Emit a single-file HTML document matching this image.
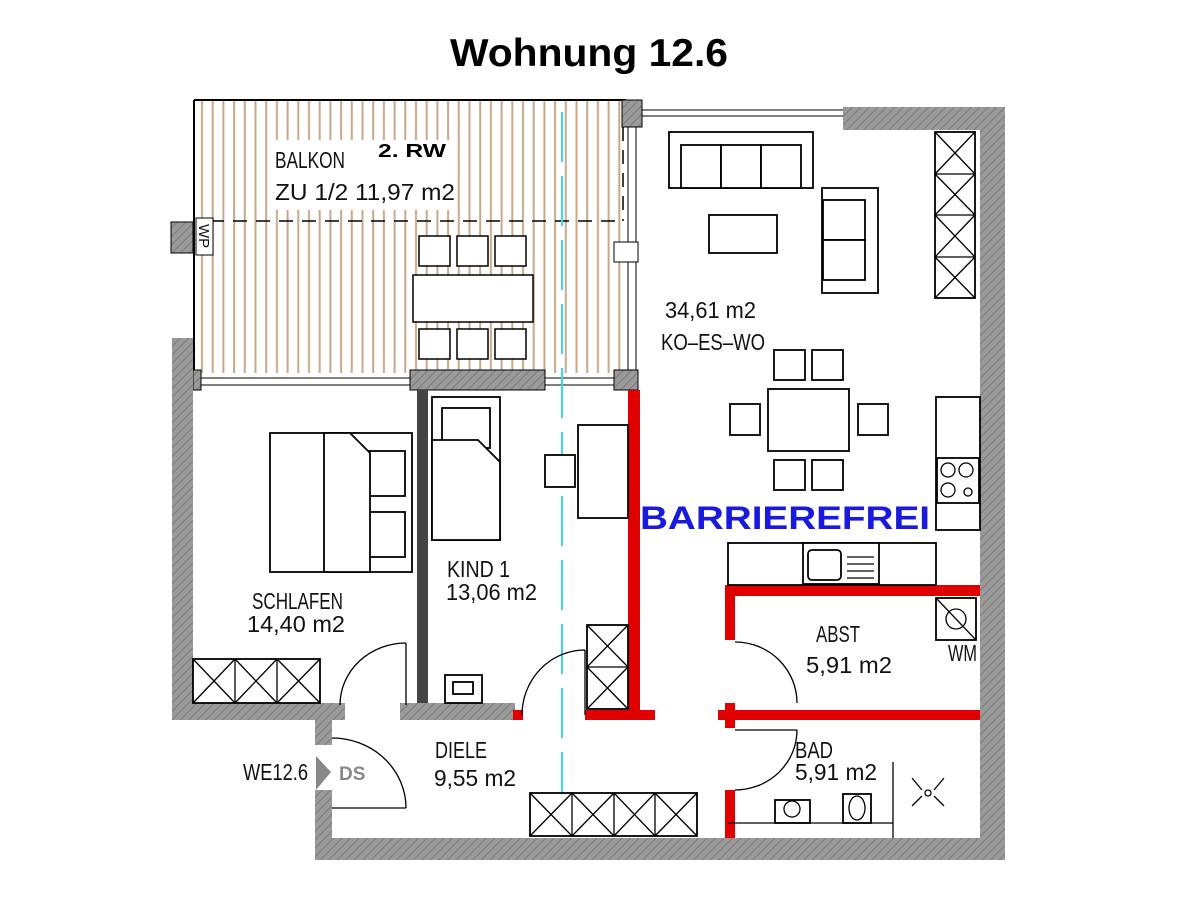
<!DOCTYPE html>
<html><head><meta charset="utf-8"><style>
body{margin:0;background:#fff;width:1200px;height:909px;overflow:hidden}
svg{display:block}
.t{font-family:"Liberation Sans",sans-serif;font-size:23px;fill:#111}
</style></head><body>
<svg width="1200" height="909" viewBox="0 0 1200 909" xmlns="http://www.w3.org/2000/svg">
<defs>
<pattern id="h" width="6" height="6" patternUnits="userSpaceOnUse" patternTransform="rotate(45)"><rect width="6" height="6" fill="#9a9a9a"/><line x1="0" y1="0" x2="0" y2="6" stroke="#7a7a7a" stroke-width="2"/></pattern>
<pattern id="w" width="10.7" height="10" patternUnits="userSpaceOnUse" x="197"><line x1="5" y1="0" x2="5" y2="10" stroke="#c8a888" stroke-width="2"/></pattern>
</defs>
<text x="589" y="66" text-anchor="middle" font-family="Liberation Sans,sans-serif" font-weight="bold" font-size="39" textLength="278" lengthAdjust="spacingAndGlyphs" fill="#000">Wohnung 12.6</text>

<!-- balcony -->
<rect x="195" y="101" width="430" height="272" fill="url(#w)"/>
<line x1="194" y1="100" x2="626" y2="100" stroke="#000" stroke-width="2"/>
<line x1="194" y1="100" x2="194" y2="372" stroke="#000" stroke-width="2"/>
<line x1="210" y1="221" x2="623" y2="221" stroke="#000" stroke-width="1.5" stroke-dasharray="14,9"/>
<line x1="623" y1="127" x2="623" y2="221" stroke="#000" stroke-width="1.5" stroke-dasharray="14,9"/>
<rect x="272" y="140" width="185" height="70" fill="#fff"/>
<text x="275" y="168" class="t" textLength="70" lengthAdjust="spacingAndGlyphs">BALKON</text>
<text x="275" y="200" class="t" textLength="180" lengthAdjust="spacingAndGlyphs">ZU  1/2  11,97  m2</text>
<text x="378" y="157" font-family="Liberation Sans,sans-serif" font-weight="bold" font-size="18" textLength="68" lengthAdjust="spacingAndGlyphs">2. RW</text>
<rect x="171" y="222" width="22" height="31" fill="url(#h)" stroke="#000"/>
<rect x="196" y="218" width="17" height="37" fill="#fff" stroke="#000"/>
<text x="0" y="0" transform="translate(199,224) rotate(90)" class="t" style="font-size:15px">WP</text>
<g fill="#fff" stroke="#000" stroke-width="1.5">
<rect x="419" y="236" width="31" height="30"/><rect x="457" y="236" width="31" height="30"/><rect x="495" y="236" width="31" height="30"/>
<rect x="413" y="275" width="120" height="47"/>
<rect x="419" y="329" width="31" height="30"/><rect x="457" y="329" width="31" height="30"/><rect x="495" y="329" width="31" height="30"/>
</g>
<!-- windows/pillars -->
<rect x="622" y="100" width="20" height="27" fill="url(#h)" stroke="#000"/>
<line x1="642" y1="110" x2="845" y2="110" stroke="#000"/><line x1="642" y1="116" x2="845" y2="116" stroke="#000"/>
<rect x="628" y="127" width="8" height="246" fill="#fff" stroke="#000"/>
<rect x="614" y="242" width="24" height="20" fill="#fff" stroke="#000"/>
<rect x="193" y="370" width="8" height="20" fill="url(#h)" stroke="#000"/>
<rect x="201" y="378" width="209" height="7" fill="#fff" stroke="#000"/>
<rect x="545" y="378" width="69" height="7" fill="#fff" stroke="#000"/>
<rect x="410" y="370" width="135" height="20" fill="url(#h)" stroke="#000"/>
<rect x="614" y="370" width="24" height="20" fill="url(#h)" stroke="#000"/>
<!-- walls -->
<rect x="843" y="107" width="162" height="23" fill="url(#h)"/>
<rect x="980" y="107" width="25" height="753" fill="url(#h)"/>
<rect x="172" y="338" width="21" height="380" fill="url(#h)"/>
<rect x="172" y="703" width="173" height="17" fill="url(#h)"/>
<rect x="315" y="703" width="17" height="42" fill="url(#h)"/>
<rect x="315" y="790" width="17" height="48" fill="url(#h)"/>
<rect x="315" y="838" width="665" height="22" fill="url(#h)"/>
<rect x="400" y="703" width="115" height="17" fill="url(#h)"/>
<rect x="417" y="390" width="11" height="313" fill="#444"/>
<!-- red walls -->
<g fill="#e00000">
<rect x="628" y="390" width="12" height="328"/>
<rect x="585" y="710" width="70" height="10"/>
<rect x="513" y="710" width="10" height="10"/>
<rect x="725" y="585" width="255" height="11"/>
<rect x="725" y="585" width="10" height="55"/>
<rect x="718" y="710" width="262" height="10"/>
<rect x="725" y="703" width="10" height="25"/>
<rect x="725" y="790" width="10" height="48"/>
</g>
<!-- cyan line -->
<line x1="562" y1="112" x2="562" y2="800" stroke="#3cd8e8" stroke-width="2" stroke-dasharray="50,14"/>
<!-- living -->
<g fill="#fff" stroke="#000" stroke-width="1.8">
<rect x="669" y="132" width="144" height="56"/>
<rect x="681" y="145" width="40" height="43"/><rect x="721" y="145" width="40" height="43"/><rect x="761" y="145" width="40" height="43"/>
<rect x="709" y="215" width="68" height="38"/>
<rect x="822" y="188" width="56" height="105"/>
<rect x="823" y="200" width="42" height="40"/><rect x="823" y="240" width="42" height="40"/>
<rect x="935" y="132" width="40" height="166"/>
<rect x="774" y="350" width="31" height="30"/><rect x="812" y="350" width="31" height="30"/>
<rect x="768" y="389" width="81" height="62"/>
<rect x="730" y="404" width="30" height="31"/><rect x="858" y="404" width="30" height="31"/>
<rect x="774" y="460" width="31" height="30"/><rect x="812" y="460" width="31" height="30"/>
<rect x="936" y="397" width="44" height="133"/>
<rect x="937" y="458" width="42" height="45"/>
<rect x="728" y="543" width="208" height="42"/>
<rect x="803" y="543" width="76" height="41"/>
<rect x="808" y="550" width="33" height="30" rx="4"/>
</g>
<g stroke="#000" stroke-width="1.3" fill="none">
<path d="M935 132L975 174M975 132L935 174M935 174L975 215M975 174L935 215M935 215L975 257M975 215L935 257M935 257L975 298M975 257L935 298M935 174H975M935 215H975M935 257H975"/>
<circle cx="948" cy="470" r="7"/><circle cx="966" cy="470" r="7"/><circle cx="948" cy="490" r="7"/><circle cx="968" cy="492" r="4"/>
<path d="M847 557H874M847 564H874M847 571H874M847 578H874"/>
</g>
<text x="665" y="318" class="t" textLength="91" lengthAdjust="spacingAndGlyphs">34,61  m2</text>
<text x="661" y="350" class="t" textLength="104" lengthAdjust="spacingAndGlyphs">KO–ES–WO</text>
<text x="640" y="529" font-family="Liberation Sans,sans-serif" font-weight="bold" font-size="32" textLength="290" lengthAdjust="spacingAndGlyphs" fill="#1a1adc">BARRIEREFREI</text>
<!-- bedrooms -->
<g fill="#fff" stroke="#000" stroke-width="1.8">
<rect x="270" y="433" width="142" height="139"/>
<rect x="368" y="451" width="37" height="45"/><rect x="368" y="512" width="37" height="45"/>
<path d="M324 433H350L370 453V572H324Z"/>
<rect x="432" y="397" width="68" height="143"/>
<rect x="442" y="408" width="48" height="40"/>
<path d="M432 440H478L500 462V540H432Z"/>
<rect x="578" y="425" width="50" height="93"/>
<rect x="545" y="455" width="30" height="32"/>
<rect x="445" y="675" width="37" height="28"/><rect x="453" y="682" width="20" height="12"/>
<rect x="193" y="659" width="127" height="44"/>
<rect x="587" y="625" width="41" height="84"/>
<rect x="530" y="793" width="167" height="43"/>
<rect x="936" y="598" width="40" height="42"/>
<rect x="775" y="800" width="35" height="23"/>
<rect x="843" y="794" width="28" height="29"/>
</g>
<g stroke="#000" stroke-width="1.3" fill="none">
<path d="M193 659L235 703M235 659L193 703M235 659L277 703M277 659L235 703M277 659L320 703M320 659L277 703M235 659V703M277 659V703"/>
<path d="M587 625L628 667M628 625L587 667M587 667L628 709M628 667L587 709M587 667H628"/>
<path d="M530 793L572 836M572 793L530 836M572 793L614 836M614 793L572 836M614 793L655 836M655 793L614 836M655 793L697 836M697 793L655 836M572 793V836M614 793V836M655 793V836"/>
<path d="M936 598L976 640"/><circle cx="956" cy="619" r="10"/>
<circle cx="792" cy="809" r="8"/><ellipse cx="857" cy="808" rx="8" ry="12"/>
<path d="M728 823H893M893 762V838"/>
<path d="M912 778L922 790M944 778L934 790M912 806L922 796M944 806L934 796"/><circle cx="928" cy="793" r="3"/>
<!-- doors -->
<path d="M406 643V705M340 705A66 62 0 0 1 406 643"/>
<path d="M585 650V715M522 715A63 65 0 0 1 585 650"/>
<path d="M735 642A62 61 0 0 1 797 703"/>
<path d="M735 730H797M797 730A62 60 0 0 1 735 790"/>
<path d="M332 808H406M332 738A74 70 0 0 1 406 808"/>
</g>
<text x="252" y="609" class="t" textLength="91" lengthAdjust="spacingAndGlyphs">SCHLAFEN</text>
<text x="247" y="632" class="t" textLength="98" lengthAdjust="spacingAndGlyphs">14,40  m2</text>
<text x="447" y="577" class="t" textLength="63" lengthAdjust="spacingAndGlyphs">KIND  1</text>
<text x="446" y="600" class="t" textLength="91" lengthAdjust="spacingAndGlyphs">13,06  m2</text>
<text x="816" y="642" class="t" textLength="44" lengthAdjust="spacingAndGlyphs">ABST</text>
<text x="806" y="673" class="t" textLength="86" lengthAdjust="spacingAndGlyphs">5,91  m2</text>
<text x="948" y="661" class="t" textLength="29" lengthAdjust="spacingAndGlyphs">WM</text>
<text x="795" y="758" class="t" textLength="38" lengthAdjust="spacingAndGlyphs">BAD</text>
<text x="795" y="780" class="t" textLength="82" lengthAdjust="spacingAndGlyphs">5,91  m2</text>
<text x="435" y="758" class="t" textLength="52" lengthAdjust="spacingAndGlyphs">DIELE</text>
<text x="434" y="786" class="t" textLength="82" lengthAdjust="spacingAndGlyphs">9,55  m2</text>
<text x="243" y="780" class="t" textLength="65" lengthAdjust="spacingAndGlyphs">WE12.6</text>
<path d="M316 756L331 772L316 790Z" fill="#888"/>
<text x="339" y="780" font-family="Liberation Sans,sans-serif" font-weight="bold" font-size="19" fill="#888">DS</text>
</svg>
</body></html>
